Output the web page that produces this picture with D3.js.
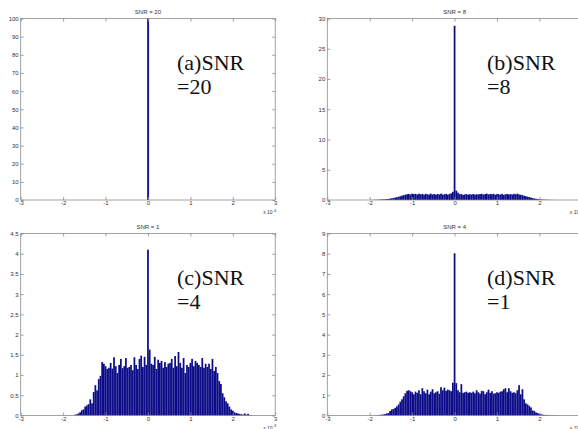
<!DOCTYPE html>
<html><head><meta charset="utf-8">
<script src="https://cdn.jsdelivr.net/npm/d3@7"></script>
<style>
html,body{margin:0;padding:0;background:#fff;overflow:hidden}
svg{display:block}
</style></head>
<body>
<script>
const W = 578, H = 429;
const binWidth = 0.04; // x 10^-3
const xTicks = [-3, -2, -1, 0, 1, 2, 3];

const titles = ["SNR = 20", "SNR = 8", "SNR = 1", "SNR = 4"];
const labelLine1 = ["(a)SNR", "(b)SNR", "(c)SNR", "(d)SNR"];
const labelLine2 = ["=20", "=8", "=4", "=1"];
const yMax = [100, 30, 4.5, 9];
const yTicksA = [0,10,20,30,40,50,60,70,80,90,100];
const yTicksB = [0,5,10,15,20,25,30];
const yTicksC = [0,0.5,1,1.5,2,2.5,3,3.5,4,4.5];
const yTicksD = [0,1,2,3,4,5,6,7,8,9];

// histogram bins: first bin centre and heights
const aStart = 0;
const aCounts = [100];

const bStart = -1.92;
const bCounts = [0.02,0.03,0.04,0.05,0.06,0.08,0.10,0.12,0.15,0.18,0.22,0.28,0.32,0.40,0.45,0.55,0.62,0.72,0.80,0.88,
0.95,1.00,0.92,1.05,0.98,1.02,0.90,1.05,0.95,1.00,0.88,1.02,0.95,0.90,1.05,0.92,0.98,0.88,1.00,0.92,
1.05,0.90,0.95,1.02,0.88,1.00,1.10,1.35,28.8,1.55,1.20,0.95,1.00,0.85,0.92,0.98,0.88,0.95,0.90,1.00,
0.88,0.95,0.92,0.98,1.02,0.90,0.98,1.05,0.92,1.00,0.95,1.02,0.88,0.98,0.95,0.90,1.02,0.85,0.95,1.00,
0.92,0.98,0.90,1.02,0.95,1.05,0.92,0.88,0.80,0.70,0.62,0.55,0.48,0.40,0.32,0.25,0.20,0.15,0.12,0.08,
0.06,0.05,0.04,0.03,0.02,0.02,0.01,0.01];

const cStart = -1.76;
const cCounts = [0,0.02,0.03,0.05,0.08,0.13,0.15,0.22,0.25,0.28,0.40,0.30,0.58,0.75,0.62,0.90,0.98,1.32,1.28,1.22,
1.15,1.18,1.30,1.16,1.44,1.22,1.05,1.25,1.40,1.17,1.22,1.42,1.18,1.20,1.25,1.12,1.44,1.25,1.15,1.40,
1.48,1.20,1.45,1.25,4.10,1.63,1.28,1.25,1.45,1.15,1.38,1.30,1.35,1.18,1.32,1.20,1.28,1.30,1.40,1.18,
1.47,1.22,1.57,1.30,1.18,1.42,1.05,1.25,1.20,1.30,1.40,1.22,1.35,1.30,1.25,1.20,1.42,1.18,1.28,1.20,
1.28,1.15,1.40,1.10,1.20,1.05,0.85,0.78,0.55,0.45,0.35,0.30,0.22,0.15,0.12,0.08,0.06,0.05,0.04,0.03,
0.02,0.05,0.02,0.04,0.01,0.01];

const dStart = -1.88;
const dCounts = [0.01,0.01,0.02,0.03,0.04,0.05,0.07,0.10,0.12,0.22,0.30,0.32,0.38,0.45,0.55,0.68,0.80,0.95,1.10,1.22,
1.25,1.20,1.15,1.05,1.18,1.12,1.25,1.05,1.35,1.20,1.10,1.28,1.05,1.18,1.30,1.10,1.15,1.20,1.08,1.40,
1.25,1.38,1.22,1.28,1.25,1.20,1.62,8.02,1.60,1.25,1.15,1.55,1.12,1.15,1.18,1.12,1.15,1.12,1.18,1.10,
1.25,1.15,1.08,1.22,1.20,1.05,1.15,1.28,1.12,1.20,1.08,1.10,1.15,1.12,1.18,1.20,1.30,1.35,1.15,1.35,
1.20,1.12,1.15,1.10,1.25,1.50,1.05,1.30,0.80,0.60,0.55,0.48,0.40,0.25,0.22,0.15,0.12,0.08,0.06,0.04,
0.03,0.03,0.02,0.02,0.01,0.01,0.01];

const panels = [
  {start:aStart, counts:aCounts, yTicks:yTicksA, left:20.7, top:18.5, bottom:200, textX:177, textY:70},
  {start:bStart, counts:bCounts, yTicks:yTicksB, left:327.3, top:18.5, bottom:200, textX:487, textY:70},
  {start:cStart, counts:cCounts, yTicks:yTicksC, left:20.7, top:233.5, bottom:415.5, textX:177, textY:285},
  {start:dStart, counts:dCounts, yTicks:yTicksD, left:327.3, top:233.5, bottom:415.5, textX:487, textY:285}
];
const axW = 254.5;
const sans = "'Liberation Sans', Arial, Helvetica, sans-serif";
const serif = "'Liberation Serif', 'Times New Roman', Times, serif";

const svg = d3.select("body").append("svg").attr("width", W).attr("height", H);

panels.forEach((p, i) => {
  const x = d3.scaleLinear().domain([-3, 3]).range([p.left, p.left + axW]);
  const y = d3.scaleLinear().domain([0, yMax[i]]).range([p.bottom, p.top]);
  const g = svg.append("g");

  const bins = p.counts.map((v, k) => ({c: p.start + k * binWidth, v}));
  const bw = x(binWidth) - x(0);
  g.append("g").selectAll("rect").data(bins).join("rect")
    .attr("x", d => x(d.c - binWidth / 2))
    .attr("width", i === 0 ? 2 : bw + 0.05)
    .attr("y", d => y(Math.min(d.v, yMax[i])))
    .attr("height", d => y(0) - y(Math.min(d.v, yMax[i])))
    .attr("fill", i === 0 ? "#1a1a9a" : "#0c0c88")
    .attr("stroke", "none");

  // box
  g.append("rect").attr("x", x(-3)).attr("y", p.top).attr("width", axW).attr("height", p.bottom - p.top)
    .attr("fill", "none").attr("stroke", "#8a8a8a").attr("stroke-width", 0.8);

  const fmt = d => String(d);
  const styleAxis = a => {
    a.select(".domain").remove();
    a.selectAll(".tick line").attr("stroke", "#8a8a8a").attr("stroke-width", 0.8);
    a.selectAll(".tick text").attr("fill", "#333").style("font-family", sans).style("font-size", "6px");
  };
  g.append("g").attr("transform", `translate(0,${p.bottom})`)
    .call(d3.axisBottom(x).tickValues(xTicks).tickFormat(fmt).tickSizeInner(-3).tickSizeOuter(0).tickPadding(1))
    .call(styleAxis);
  g.append("g").attr("transform", `translate(0,${p.top})`)
    .call(d3.axisTop(x).tickValues(xTicks).tickFormat("").tickSizeInner(-3).tickSizeOuter(0))
    .call(styleAxis);
  g.append("g").attr("transform", `translate(${x(-3)},0)`)
    .call(d3.axisLeft(y).tickValues(p.yTicks).tickFormat(fmt).tickSizeInner(-3).tickSizeOuter(0).tickPadding(2))
    .call(styleAxis);
  g.append("g").attr("transform", `translate(${x(3)},0)`)
    .call(d3.axisRight(y).tickValues(p.yTicks).tickFormat("").tickSizeInner(-3).tickSizeOuter(0))
    .call(styleAxis);

  // title
  g.append("text").attr("x", (x(-3) + x(3)) / 2).attr("y", p.top - 5)
    .attr("text-anchor", "middle").attr("fill", "#333")
    .style("font-family", sans).style("font-size", "6px")
    .text(titles[i]);

  // exponent label
  const ex = g.append("text").attr("x", x(3) - 12).attr("y", p.bottom + 14)
    .attr("fill", "#333").style("font-family", sans).style("font-size", "5px");
  ex.append("tspan").text("x 10");
  ex.append("tspan").attr("dy", -2.5).style("font-size", "4px").text("-3");

  // annotation
  const t = g.append("text").attr("fill", "#111")
    .style("font-family", serif).style("font-size", "22px");
  t.append("tspan").attr("x", p.textX).attr("y", p.textY).text(labelLine1[i]);
  t.append("tspan").attr("x", p.textX).attr("y", p.textY + 24).text(labelLine2[i]);
});
</script>
</body></html>
